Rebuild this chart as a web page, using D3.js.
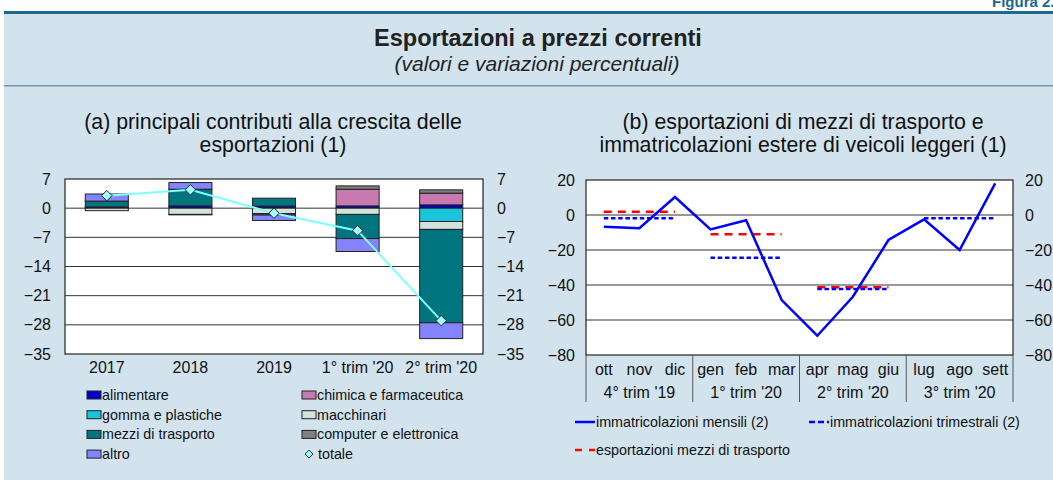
<!DOCTYPE html>
<html>
<head>
<meta charset="utf-8">
<script src="https://cdn.jsdelivr.net/npm/d3@7"></script>
<style>
  body { margin: 0; background: #fff; }
  svg { display: block; font-family: "Liberation Sans", Arial, sans-serif; }
</style>
</head>
<body>
<div id="chart"></div>
<script>
// ---- Data (a): contributions to export growth ----
var periods = ["2017", "2018", "2019", "1° trim '20", "2° trim '20"];
var sectorNames = ["alimentare", "chimica e farmaceutica", "gomma e plastiche", "macchinari",
                   "mezzi di trasporto", "computer e elettronica", "altro"];
var alimentare = [0.3, 0.55, 0.5, 0.55, 0.8];
var chimica    = [0, 0, 0, 4.0, 2.8];
var gomma      = [0, 0, 0, 0, -3.2];
var macchinari = [-0.6, -1.5, -1.3, -1.5, -1.9];
var mezzi      = [1.4, 4.0, 1.9, -5.8, -22.4];
var computer   = [0, -0.1, -0.35, 0.8, 0.8];
var altro      = [1.7, 1.6, -1.3, -3.1, -3.8];
var totale     = [3.0, 4.4, -1.2, -5.4, -27.0];
var leftTicks  = [7, 0, -7, -14, -21, -28, -35];

// ---- Data (b): transport exports and foreign registrations ----
var months = ["ott", "nov", "dic", "gen", "feb", "mar", "apr", "mag", "giu", "lug", "ago", "sett"];
var quarters = ["4° trim '19", "1° trim '20", "2° trim '20", "3° trim '20"];
var immatMensili = [-6.7, -7.6, 10.3, -8.2, -3.0, -48.6, -69.0, -46.7, -14.3, -2.5, -20.0, 18.1];
var immatTrimestrali = [-1.9, -24.4, -42.3, -1.9];
var esportMezzi = [1.9, -11.0, -41.3, null];
var rightTicks = [20, 0, -20, -40, -60, -80];

var sectorColors = ["#0000cc", "#c87ab0", "#1ac4dc", "#d2e2dc", "#00747f", "#808080", "#8484ff"];

var W = 1053, H = 480;
var tickFont = 16;
var svg = d3.select("#chart").append("svg").attr("width", W).attr("height", H);

// Background panel and header
svg.append("rect").attr("x", 4).attr("y", 13).attr("width", W - 4).attr("height", H - 13).attr("fill", "#d2e3ee");
svg.append("rect").attr("x", 4).attr("y", 11).attr("width", W - 4).attr("height", 3).attr("fill", "#1d6790");
svg.append("rect").attr("x", 4).attr("y", 85).attr("width", W - 4).attr("height", 1.5).attr("fill", "#6a98b6");
svg.append("text").attr("x", 992).attr("y", 7).attr("font-size", 15).attr("font-weight", "bold")
    .attr("fill", "#1d6790").text("Figura 2.");
svg.append("text").attr("x", 538).attr("y", 46).attr("text-anchor", "middle")
    .attr("font-size", 23.5).attr("font-weight", "bold").attr("fill", "#222").text("Esportazioni a prezzi correnti");
svg.append("text").attr("x", 537).attr("y", 71).attr("text-anchor", "middle")
    .attr("font-size", 21).attr("font-style", "italic").attr("fill", "#222").text("(valori e variazioni percentuali)");

function title(x, lines) {
    lines.forEach(function(l, i) {
        svg.append("text").attr("x", x).attr("y", 129 + i * 23).attr("text-anchor", "middle")
            .attr("font-size", 21.3).attr("fill", "#111").text(l);
    });
}
title(273, ["(a) principali contributi alla crescita delle", "esportazioni (1)"]);
title(803, ["(b) esportazioni di mezzi di trasporto e", "immatricolazioni estere di veicoli leggeri (1)"]);

// ================= Chart (a) =================
var a = { left: 65, right: 483, top: 179, bottom: 354 };
var xa = d3.scaleBand().domain(periods).range([a.left, a.right]).paddingInner(0.485).paddingOuter(0.2425);
var ya = d3.scaleLinear().domain([-35, 7]).range([a.bottom, a.top]);

var gA = svg.append("g");
gA.append("rect").attr("x", a.left).attr("y", a.top).attr("width", a.right - a.left)
    .attr("height", a.bottom - a.top).attr("fill", "#fff");

gA.selectAll(".grid").data(leftTicks.filter(function(t) { return t < 7 && t > -35; }))
    .enter().append("line")
    .attr("x1", a.left).attr("x2", a.right)
    .attr("y1", function(d) { return ya(d); }).attr("y2", function(d) { return ya(d); })
    .attr("stroke", "#333").attr("stroke-width", 1);

var rows = periods.map(function(p, i) {
    return { period: p, s0: alimentare[i], s1: chimica[i], s2: gomma[i], s3: macchinari[i],
             s4: mezzi[i], s5: computer[i], s6: altro[i] };
});
var stack = d3.stack().keys(["s0", "s1", "s2", "s3", "s4", "s5", "s6"]).offset(d3.stackOffsetDiverging);
var series = stack(rows);

gA.selectAll(".series").data(series).enter().append("g")
    .attr("fill", function(d, i) { return sectorColors[i]; })
    .selectAll("rect").data(function(d) { return d.filter(function(v) { return v[1] !== v[0]; }); })
    .enter().append("rect")
    .attr("x", function(d) { return xa(d.data.period); })
    .attr("width", xa.bandwidth())
    .attr("y", function(d) { return ya(Math.max(d[0], d[1])); })
    .attr("height", function(d) { return Math.abs(ya(d[0]) - ya(d[1])); })
    .attr("stroke", "#222").attr("stroke-width", 1);

var totLine = d3.line()
    .x(function(d, i) { return xa(periods[i]) + xa.bandwidth() / 2; })
    .y(function(d) { return ya(d); });
gA.append("path").datum(totale).attr("d", totLine).attr("fill", "none")
    .attr("stroke", "#80ffff").attr("stroke-width", 2);
var diamond = d3.symbol().type(d3.symbolDiamond2).size(70);
gA.selectAll(".tot").data(totale).enter().append("path")
    .attr("d", diamond)
    .attr("transform", function(d, i) { return "translate(" + (xa(periods[i]) + xa.bandwidth() / 2) + "," + ya(d) + ")"; })
    .attr("fill", "#a0ffff").attr("stroke", "#222").attr("stroke-width", 1);

gA.append("rect").attr("x", a.left).attr("y", a.top).attr("width", a.right - a.left)
    .attr("height", a.bottom - a.top).attr("fill", "none").attr("stroke", "#222").attr("stroke-width", 1.2);

// axes
var axLeftA = d3.axisLeft(ya).tickValues(leftTicks).tickSize(0).tickPadding(14);
var axRightA = d3.axisRight(ya).tickValues(leftTicks).tickSize(0).tickPadding(14);
var axBottomA = d3.axisBottom(xa).tickSize(0).tickPadding(8);
[gA.append("g").attr("transform", "translate(" + a.left + ",0)").call(axLeftA),
 gA.append("g").attr("transform", "translate(" + a.right + ",0)").call(axRightA),
 gA.append("g").attr("transform", "translate(0," + a.bottom + ")").call(axBottomA)].forEach(function(g) {
    g.select(".domain").remove();
    g.selectAll("text").attr("font-size", tickFont).attr("fill", "#111").attr("font-family", "Liberation Sans, Arial, sans-serif");
});

// legend (a)
var legA = svg.append("g");
var legItems = sectorNames.concat(["totale"]);
legItems.forEach(function(name, i) {
    var col = i % 2, row = Math.floor(i / 2);
    var x = col === 0 ? 87 : 302, y = 395 + row * 19.7;
    if (name === "totale") {
        legA.append("path").attr("d", d3.symbol().type(d3.symbolDiamond2).size(40))
            .attr("transform", "translate(" + (x + 7) + "," + y + ")")
            .attr("fill", "#a0ffff").attr("stroke", "#222");
        legA.append("text").attr("x", x + 16).attr("y", y + 5).attr("font-size", 14.3).attr("fill", "#111").text(name);
    } else {
        legA.append("rect").attr("x", x).attr("y", y - 4).attr("width", 14).attr("height", 8)
            .attr("fill", sectorColors[i]).attr("stroke", "#222");
        legA.append("text").attr("x", x + 15).attr("y", y + 5).attr("font-size", 14.3).attr("fill", "#111").text(name);
    }
});

// ================= Chart (b) =================
var b = { left: 586, right: 1013, top: 180, bottom: 355 };
var xb = d3.scaleBand().domain(months).range([b.left, b.right]);
var xq = d3.scaleBand().domain(quarters).range([b.left, b.right]);
var yb = d3.scaleLinear().domain([-80, 20]).range([b.bottom, b.top]);

var gB = svg.append("g");
gB.append("rect").attr("x", b.left).attr("y", b.top).attr("width", b.right - b.left)
    .attr("height", b.bottom - b.top).attr("fill", "#fff");
gB.selectAll(".grid").data(rightTicks.filter(function(t) { return t < 20 && t > -80; }))
    .enter().append("line")
    .attr("x1", b.left).attr("x2", b.right)
    .attr("y1", function(d) { return yb(d); }).attr("y2", function(d) { return yb(d); })
    .attr("stroke", "#333").attr("stroke-width", 1);

function mx(m) { return xb(m) + xb.bandwidth() / 2; }

// quarterly segments span first to last month of each quarter
function quarterSegs(vals, color, dash) {
    vals.forEach(function(v, q) {
        if (v === null) return;
        gB.append("line")
            .attr("x1", mx(months[q * 3])).attr("x2", mx(months[q * 3 + 2]))
            .attr("y1", yb(v)).attr("y2", yb(v))
            .attr("stroke", color).attr("stroke-width", 2.5).attr("stroke-dasharray", dash);
    });
}
quarterSegs(esportMezzi, "#ff0000", "8,6");
quarterSegs(immatTrimestrali, "#0000ff", "4.5,2.7");

var monthLine = d3.line().x(function(d, i) { return mx(months[i]); }).y(function(d) { return yb(d); });
gB.append("path").datum(immatMensili).attr("d", monthLine).attr("fill", "none")
    .attr("stroke", "#0000ff").attr("stroke-width", 2.5).attr("stroke-linejoin", "miter");

gB.append("rect").attr("x", b.left).attr("y", b.top).attr("width", b.right - b.left)
    .attr("height", b.bottom - b.top).attr("fill", "none").attr("stroke", "#222").attr("stroke-width", 1.2);

var axLeftB = d3.axisLeft(yb).tickValues(rightTicks).tickSize(0).tickPadding(11);
var axRightB = d3.axisRight(yb).tickValues(rightTicks).tickSize(0).tickPadding(12);
var axMonths = d3.axisBottom(xb).tickSize(0).tickPadding(9);
var axQuarters = d3.axisBottom(xq).tickSize(0).tickPadding(32);
[gB.append("g").attr("transform", "translate(" + b.left + ",0)").call(axLeftB),
 gB.append("g").attr("transform", "translate(" + b.right + ",0)").call(axRightB),
 gB.append("g").attr("transform", "translate(0," + b.bottom + ")").call(axMonths),
 gB.append("g").attr("transform", "translate(0," + b.bottom + ")").call(axQuarters)].forEach(function(g) {
    g.select(".domain").remove();
    g.selectAll("text").attr("font-size", tickFont).attr("fill", "#111").attr("font-family", "Liberation Sans, Arial, sans-serif");
});

// quarter separators below the plot
gB.selectAll(".sep").data(quarters.concat([null])).enter().append("line")
    .attr("x1", function(d) { return d === null ? b.right : xq(d); })
    .attr("x2", function(d) { return d === null ? b.right : xq(d); })
    .attr("y1", b.bottom).attr("y2", 402)
    .attr("stroke", "#555").attr("stroke-width", 1);

// legend (b)
var legB = svg.append("g");
var legBItems = [
    { name: "immatricolazioni mensili (2)", color: "#0000ff", dash: null, x: 575, y: 422 },
    { name: "immatricolazioni trimestrali (2)", color: "#0000ff", dash: "6,3", x: 809, y: 422 },
    { name: "esportazioni mezzi di trasporto", color: "#ff0000", dash: "7,7", x: 575, y: 450 }
];
legBItems.forEach(function(it) {
    legB.append("line").attr("x1", it.x).attr("x2", it.x + 20).attr("y1", it.y).attr("y2", it.y)
        .attr("stroke", it.color).attr("stroke-width", 2.5).attr("stroke-dasharray", it.dash);
    legB.append("text").attr("x", it.x + 21).attr("y", it.y + 5).attr("font-size", 14.3).attr("fill", "#111").text(it.name);
});
</script>
</body>
</html>
